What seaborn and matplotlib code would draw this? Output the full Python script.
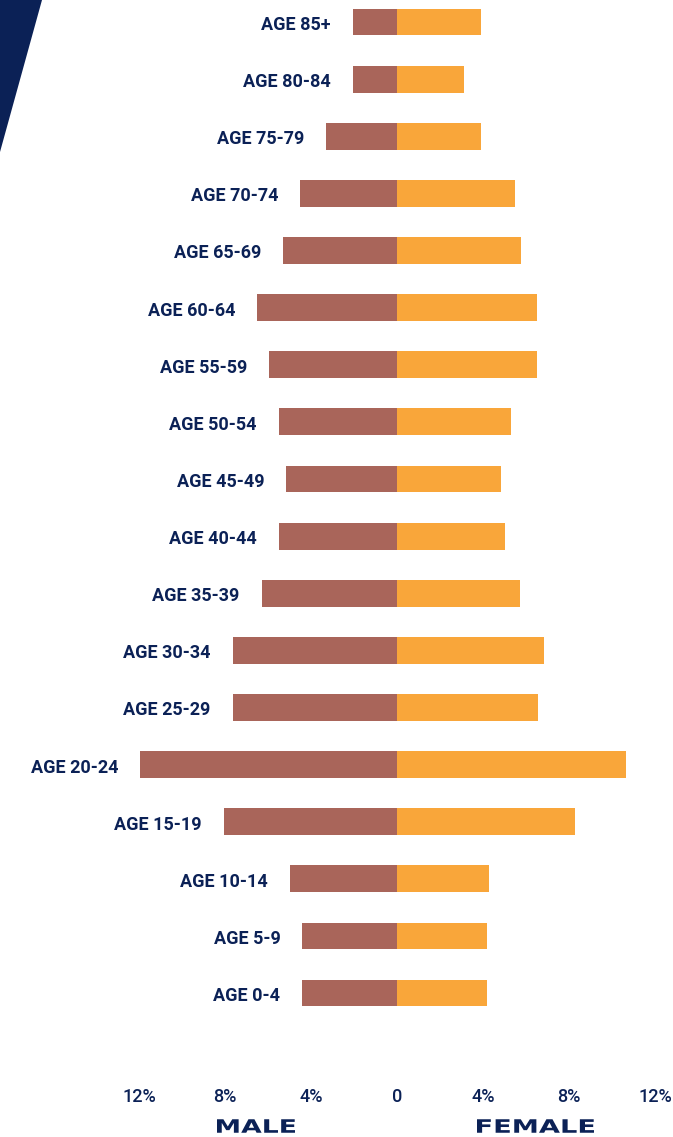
import numpy as np
import pandas as pd
import matplotlib
matplotlib.use("Agg")
import matplotlib.pyplot as plt
import seaborn as sns
from matplotlib.patches import Polygon, PathPatch
from matplotlib.textpath import TextPath
from matplotlib.font_manager import FontProperties
from matplotlib.transforms import Affine2D

# datos (porcentaje de poblacion)
ages = ["AGE 85+", "AGE 80-84", "AGE 75-79", "AGE 70-74", "AGE 65-69", "AGE 60-64",
        "AGE 55-59", "AGE 50-54", "AGE 45-49", "AGE 40-44", "AGE 35-39", "AGE 30-34",
        "AGE 25-29", "AGE 20-24", "AGE 15-19", "AGE 10-14", "AGE 5-9", "AGE 0-4"]
male = [2.05, 2.05, 3.3, 4.5, 5.3, 6.5, 5.95, 5.5, 5.15, 5.5, 6.3, 7.65,
        7.65, 11.95, 8.05, 5.0, 4.4, 4.4]
female = [3.9, 3.1, 3.9, 5.5, 5.75, 6.5, 6.5, 5.3, 4.85, 5.0, 5.7, 6.85,
          6.55, 10.65, 8.3, 4.3, 4.2, 4.2]
ticks = [-12, -8, -4, 0, 4, 8, 12]
tick_labels = ["12%", "8%", "4%", "0", "4%", "8%", "12%"]

NAVY = "#0B2156"
MALE_C = "#A9655A"
FEMALE_C = "#F9A63A"
W, H = 673, 1137

df = pd.DataFrame({"age": ages, "male": -np.array(male), "female": female})

sns.set_style("white")
plt.rcParams["font.family"] = ["Roboto", "DejaVu Sans"]

fig = plt.figure(figsize=(W / 100, H / 100), dpi=100)
ax = fig.add_axes([0, 0, 1, 1])

sns.barplot(data=df, x="male", y="age", order=ages, orient="h",
            color=MALE_C, width=0.47, saturation=1, linewidth=0, ax=ax)
sns.barplot(data=df, x="female", y="age", order=ages, orient="h",
            color=FEMALE_C, width=0.47, saturation=1, linewidth=0, ax=ax)

ax.set_xlim(-397 / 21.5, 276 / 21.5)
ax.set_ylim(19.52, -0.385)
ax.axis("off")

# etiquetas de edad a la izquierda de cada barra
for i, (a, m) in enumerate(zip(ages, male)):
    ax.annotate(a, xy=(-m, i), xytext=(-22, -3), textcoords="offset pixels",
                ha="right", va="center", fontsize=13, fontweight="bold", color=NAVY)

for t, lab in zip(ticks, tick_labels):
    ax.text(t, 18.82, lab, ha="center", va="center", fontsize=13,
            fontweight="medium", color=NAVY)


# titulos anchos MALE / FEMALE (texto estirado)
def wide_text(s, x0, x1, yc, cap_h):
    tp = TextPath((0, 0), s, size=1, prop=FontProperties(family="DejaVu Sans", weight="bold"))
    ext = tp.get_extents()
    sx = (x1 - x0) / ext.width
    sy = cap_h / ext.height
    tr = (Affine2D().translate(-ext.x0, -ext.y0).scale(sx, sy)
          .translate(x0, H - yc - cap_h / 2).scale(1 / W, 1 / H) + fig.transFigure)
    fig.patches.append(PathPatch(tp, transform=tr, facecolor=NAVY, edgecolor="none"))


wide_text("MALE", 217, 295, 1126, 13.5)
wide_text("FEMALE", 477, 594, 1126, 13.5)

# triangulo decorativo
tri = Polygon([(0, 1), (42 / W, 1), (0, 1 - 152 / H)], closed=True,
              transform=fig.transFigure, facecolor=NAVY, edgecolor="none")
fig.patches.append(tri)

fig.savefig("out.png", dpi=100)
